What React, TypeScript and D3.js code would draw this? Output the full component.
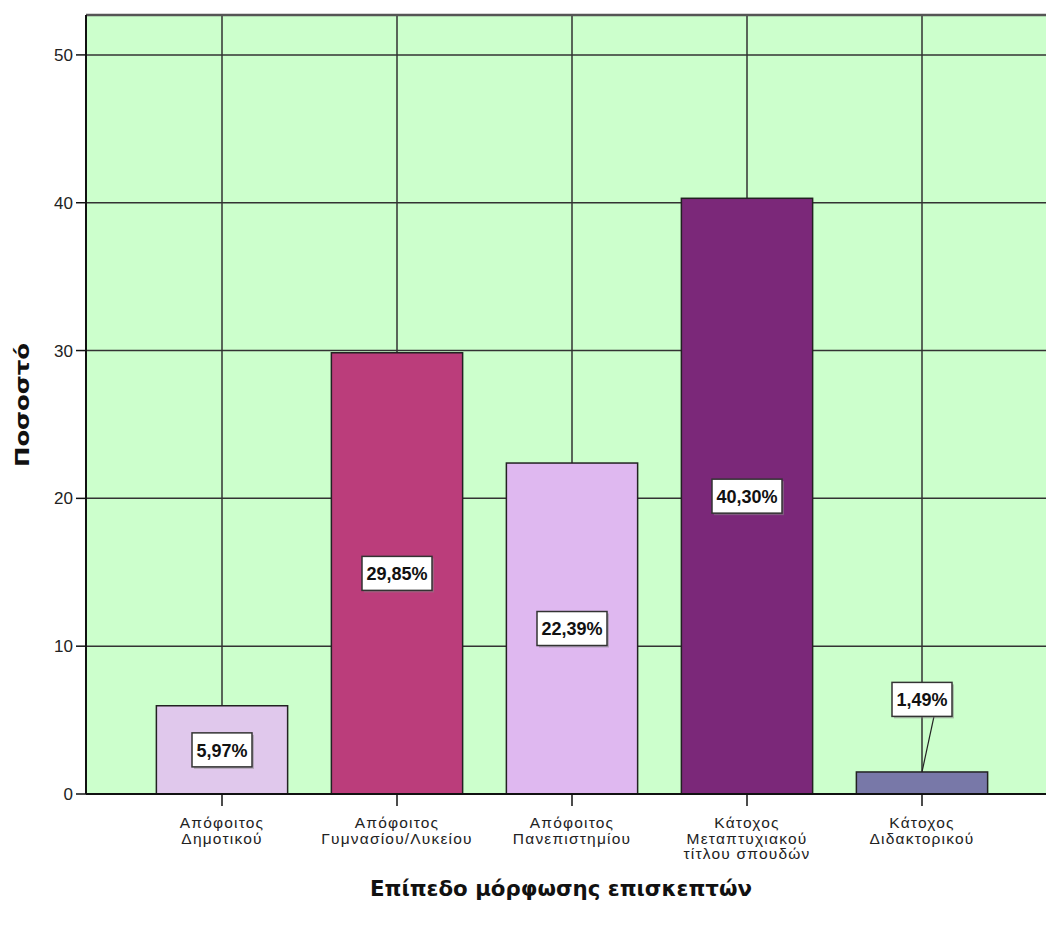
import React from "react";
import * as d3 from "d3";

const categories = [
  ["Απόφοιτος", "Δημοτικού"],
  ["Απόφοιτος", "Γυμνασίου/Λυκείου"],
  ["Απόφοιτος", "Πανεπιστημίου"],
  ["Κάτοχος", "Μεταπτυχιακού", "τίτλου σπουδών"],
  ["Κάτοχος", "Διδακτορικού"],
];
const values = [5.97, 29.85, 22.39, 40.3, 1.49];
const labels = ["5,97%", "29,85%", "22,39%", "40,30%", "1,49%"];
const colors = ["#e0c8ec", "#bb3d7b", "#dfb8f0", "#7b2879", "#7878a8"];
const yTicks = [0, 10, 20, 30, 40, 50];
const labelPos = [null, null, null, null, 6.4];

export default function App() {
  const W = 1046, H = 926;
  const left = 86, right = 1046, top = 15, bottom = 794;
  const y = d3.scaleLinear().domain([0, 52.7]).range([bottom, top]);
  const x = d3
    .scaleBand<number>()
    .domain(values.map((_, i) => i))
    .range([134.5, 1009.5])
    .paddingInner(0.25)
    .paddingOuter(0.125);
  const bw = x.bandwidth();
  const font = "'Liberation Sans', Arial, sans-serif";
  return (
    <svg width={W} height={H} style={{ position: "absolute", left: 0, top: 0 }}>
      <rect x={left} y={top} width={right - left} height={bottom - top} fill="#ccffcc" />
      {yTicks.slice(1).map((t) => (
        <line key={"gy" + t} x1={left} x2={right} y1={y(t)} y2={y(t)} stroke="#333" strokeWidth={1.5} />
      ))}
      {values.map((_, i) => (
        <line key={"gx" + i} x1={x(i)! + bw / 2} x2={x(i)! + bw / 2} y1={top} y2={bottom} stroke="#333" strokeWidth={1.5} />
      ))}
      <line x1={left} x2={right} y1={top} y2={top} stroke="#555" strokeWidth={2.5} />
      {values.map((v, i) => (
        <rect key={"b" + i} x={x(i)!} y={y(v)} width={bw} height={bottom - y(v)} fill={colors[i]} stroke="#222" strokeWidth={1.5} />
      ))}
      <line x1={left} x2={left} y1={top} y2={bottom} stroke="#111" strokeWidth={2} />
      <line x1={left} x2={right} y1={bottom} y2={bottom} stroke="#111" strokeWidth={2} />
      {yTicks.map((t) => (
        <g key={"yt" + t}>
          <line x1={left - 10} x2={left} y1={y(t)} y2={y(t)} stroke="#111" strokeWidth={1.5} />
          <text x={left - 13} y={y(t)} dy="0.36em" textAnchor="end" fontFamily={font} fontSize={17} fill="#222">
            {t}
          </text>
        </g>
      ))}
      {categories.map((c, i) => {
        const cx = x(i)! + bw / 2;
        return (
          <g key={"xt" + i}>
            <line x1={cx} x2={cx} y1={bottom} y2={bottom + 12} stroke="#111" strokeWidth={1.5} />
            {c.map((line, j) => (
              <text key={j} x={cx} y={828 + j * 15.5} textAnchor="middle" fontFamily={font} fontSize={15.5} letterSpacing={1.2} fill="#222">
                {line}
              </text>
            ))}
          </g>
        );
      })}
      {values.map((v, i) => {
        const cx = x(i)! + bw / 2;
        const pos = labelPos[i];
        const cy = y(pos == null ? v / 2 : pos);
        const w = labels[i].length > 5 ? 70 : 60;
        const h = 34;
        return (
          <g key={"l" + i}>
            {pos != null && (
              <line x1={cx + 12} y1={cy + h / 2} x2={cx} y2={y(v)} stroke="#222" strokeWidth={1.2} />
            )}
            <rect x={cx - w / 2 + 2} y={cy - h / 2 + 2} width={w} height={h} fill="#888" opacity={0.5} />
            <rect x={cx - w / 2} y={cy - h / 2} width={w} height={h} fill="#fff" stroke="#333" strokeWidth={1.5} />
            <text x={cx} y={cy} dy="0.37em" textAnchor="middle" fontFamily={font} fontWeight="bold" fontSize={18}
              textLength={labels[i].length * 10.2} lengthAdjust="spacingAndGlyphs" fill="#111">
              {labels[i]}
            </text>
          </g>
        );
      })}
      <text transform={`translate(29,405) rotate(-90)`} textAnchor="middle" fontFamily="'DejaVu Sans', Verdana, sans-serif"
        fontWeight="bold" fontSize={20} textLength={124} lengthAdjust="spacingAndGlyphs" fill="#111">
        Ποσοστό
      </text>
      <text x={561} y={896} textAnchor="middle" fontFamily="'DejaVu Sans', Verdana, sans-serif" fontWeight="bold" fontSize={21}
        textLength={382} lengthAdjust="spacingAndGlyphs" fill="#111">
        Επίπεδο μόρφωσης επισκεπτών
      </text>
    </svg>
  );
}
